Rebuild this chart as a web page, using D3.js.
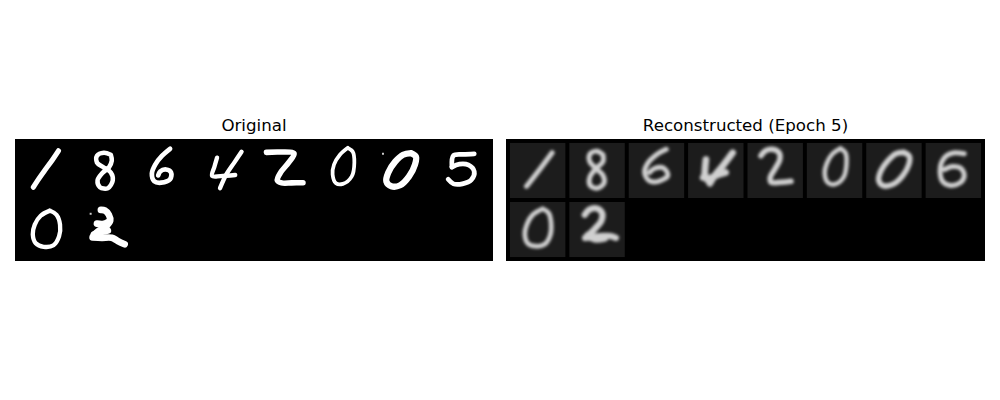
<html>
  <head>
    <script src="https://d3js.org/d3.v7.min.js"></script>
    <style>
      body { margin: 0; background: #fff; }
    </style>
  </head>
  <body>
    <svg id="fig" width="1000" height="400"></svg>
    <script>
      // digit labels, 8 per row like torchvision make_grid
      const labels = [1, 8, 6, 4, 2, 0, 0, 5, 0, 2];
      const titles = ["Original", "Reconstructed (Epoch 5)"];

      // pen strokes per digit, in 28x28 image pixels
      const origStrokes = [
        [[[20, 4], [17, 8.5], [13, 14], [9.5, 19], [7.3, 22.5]]],
        [[[16.5, 6], [13, 5], [9.5, 6.5], [9.5, 10], [13, 12.5], [16.5, 15], [17.5, 19], [15, 23], [11, 22.5], [9.8, 19], [12, 15.5], [15.5, 12.5], [17, 9], [16.5, 6]]],
        [[[16.5, 3], [12.5, 6.5], [9, 11], [7.3, 15.5], [8.5, 19.5], [12, 20.2], [16.5, 18.5], [17, 15], [14.5, 13.5], [11.5, 14.5], [10.5, 16.5]]],
        [[[10.3, 7.5], [9, 12], [7.8, 16.8], [12, 16.9], [19.5, 16.3]], [[22.7, 4.5], [19, 10], [15, 16], [11.8, 23]]],
        [[[5.3, 4.8], [12, 4.6], [19.3, 5.4], [16.5, 10], [12.5, 15], [10.8, 19], [13, 20.3], [18, 20.3], [23.8, 20.2]]],
        [[[16.5, 2.5], [12.5, 6], [9.5, 11], [8.8, 16], [10.5, 20.5], [14, 20.8], [18.5, 17], [19.8, 10], [19, 4.5], [16.5, 2.5]]],
        [[[18.5, 5.2], [21, 7], [20.5, 11], [17.5, 17], [13, 21.5], [8.5, 22], [6, 19.5], [7, 15], [10.5, 9.5], [14.5, 6], [18.5, 5.2]]],
        [[[20.5, 5.5], [15, 5.8], [10, 6.4], [9.2, 12.3]], [[9.2, 12.3], [13, 10.8], [17.5, 11.2], [20.5, 14.5], [19, 18.8], [14.5, 20.8], [10, 20.8], [7.3, 18.5]]],
        [[[15.7, 4.4], [11, 7], [8, 11.5], [7, 16.5], [8.5, 21], [12.5, 22.8], [17.5, 22], [20.3, 17.5], [20.8, 11.5], [19, 6.5], [15.7, 4.4]]],
        [[[11.5, 4], [13.5, 4.3], [15.5, 6.5], [16.2, 9.5], [14, 12.5], [10, 15], [8, 16.8]], [[7.3, 18], [12, 18.2], [17, 18.2], [20, 19.8], [23.5, 21.5]], [[9.5, 11], [12.5, 11.2], [15.5, 10]], [[8, 16.5], [11, 15.5], [15, 14.5]]]
      ];
      // stray single-pixel specks: [digit index, x, y]
      const origSpecks = [[6, 4.3, 5.5], [9, 6.3, 6]];

      const reconStrokes = [
        [[[21.3, 5], [15, 13.5], [8.4, 22]]],
        [[[17, 6], [14, 4.2], [10.5, 5.5], [10.3, 9.5], [13.5, 13], [17, 16.5], [17.5, 20.5], [14, 23], [10.5, 21.5], [10.3, 17.5], [13.5, 13], [17, 9.5], [17, 6]]],
        [[[19, 3.2], [14, 6], [9.5, 10.5], [8, 15], [10.5, 19.3], [15, 19.5], [19.8, 16.5], [17.5, 12.7], [13, 13], [10.5, 15]]],
        [[[9, 8.5], [8.6, 12.5], [8.4, 16]], [[7.6, 17.5], [11, 17.8], [15, 16.2], [19, 15]], [[22.5, 5], [18, 11], [13.5, 16.5], [11, 20.5]], [[8.5, 16.5], [10, 19], [12, 18]]],
        [[[6.8, 6.5], [9, 4], [12.5, 3.2], [16, 5], [16.3, 8.5], [14, 13], [11.5, 17.5], [12, 20], [17, 20], [22, 19.5]]],
        [[[17, 2.8], [13, 5.5], [10, 10.5], [9, 15.5], [10.5, 20], [14, 21], [18.5, 17.5], [20, 11], [19.5, 5], [17, 2.8]]],
        [[[19, 4.8], [21.8, 6.8], [21.5, 11], [18.5, 16.5], [13.5, 21], [8.5, 21.7], [6.3, 19], [7.5, 14], [11, 9], [15, 5.5], [19, 4.8]]],
        [[[19.5, 5.5], [14.5, 5], [10.5, 6.5], [8, 10], [7.3, 14.5], [8.5, 19.5], [12, 21.5], [17, 20.5], [19.5, 17], [18, 13], [13.5, 12], [9.5, 13.5]]],
        [[[16.5, 3.5], [11.5, 6.5], [8.5, 11.5], [7.5, 16.5], [9, 21], [13, 22.5], [17.5, 21.5], [20.3, 17], [20.8, 11], [19.5, 5.5], [16.5, 3.5]]],
        [[[7.8, 6.5], [10, 4], [13.5, 3.2], [16.5, 5.5], [16.2, 9.5], [13, 13.5], [10, 16.5]], [[8, 18.3], [12, 17.8], [17, 17.3], [21, 17.3], [23.5, 18.2]], [[9, 17], [13, 19], [18, 18.5]]]
      ];
      // pen widths in image pixels
      const origPen = [2.6, 2.3, 2.4, 2.2, 2.8, 1.9, 3.2, 2.4, 2.2, 3.4];
      const reconPen = [2.6, 2.5, 2.5, 3.4, 2.8, 2.3, 2.8, 2.5, 2.4, 3.2];

      const svg = d3.select("#fig");
      const defs = svg.append("defs");

      defs.append("filter")
        .attr("id", "soft")
        .attr("x", "-20%").attr("y", "-20%")
        .attr("width", "140%").attr("height", "140%")
        .append("feGaussianBlur")
        .attr("stdDeviation", 0.7);

      defs.append("filter")
        .attr("id", "blurry")
        .attr("x", "-50%").attr("y", "-50%")
        .attr("width", "200%").attr("height", "200%")
        .append("feGaussianBlur")
        .attr("stdDeviation", 1.7);

      const nCols = 8, cell = 28, pad = 2;
      const gridW = nCols * cell + (nCols + 1) * pad;
      const nRows = Math.ceil(labels.length / nCols);
      const gridH = nRows * cell + (nRows + 1) * pad;

      const panels = [
        { title: titles[0], x0: 15, x1: 493, strokes: origStrokes, pen: origPen, specks: origSpecks, recon: false },
        { title: titles[1], x0: 506, x1: 985, strokes: reconStrokes, pen: reconPen, specks: [], recon: true }
      ];

      panels.forEach(function (p) {
        const x = d3.scaleLinear().domain([0, gridW]).range([p.x0, p.x1]);
        const y = d3.scaleLinear().domain([0, gridH]).range([139, 261]);
        const k = x(1) - x(0);
        const g = svg.append("g");
        const cellX = (i) => pad + (i % nCols) * (cell + pad);
        const cellY = (i) => pad + Math.floor(i / nCols) * (cell + pad);

        g.append("rect")
          .attr("x", x(0)).attr("y", y(0))
          .attr("width", x(gridW) - x(0))
          .attr("height", y(gridH) - y(0))
          .attr("fill", "#000");

        g.append("text")
          .attr("x", (p.x0 + p.x1) / 2)
          .attr("y", 130.5)
          .attr("text-anchor", "middle")
          .style("font-family", "DejaVu Sans")
          .style("font-size", "16.67px")
          .text(p.title);

        labels.forEach(function (lab, i) {
          const cx = cellX(i);
          const cy = cellY(i);
          const cg = g.append("g").attr("class", "digit").attr("data-label", lab);

          if (p.recon) {
            cg.append("rect")
              .attr("x", x(cx)).attr("y", y(cy))
              .attr("width", x(cx + cell) - x(cx))
              .attr("height", y(cy + cell) - y(cy))
              .attr("fill", "#1c1c1c");
          }

          const line = d3.line()
            .x((d) => x(cx + d[0]))
            .y((d) => y(cy + d[1]))
            .curve(d3.curveCatmullRom.alpha(0.5));

          cg.append("g")
            .attr("filter", p.recon ? "url(#blurry)" : "url(#soft)")
            .selectAll("path")
            .data(p.strokes[i])
            .join("path")
            .attr("d", line)
            .attr("fill", "none")
            .attr("stroke", p.recon ? "#d0d0d0" : "#fff")
            .attr("stroke-width", p.pen[i] * k)
            .attr("stroke-linecap", "round")
            .attr("stroke-linejoin", "round");
        });

        g.selectAll("rect.speck")
          .data(p.specks)
          .join("rect")
          .attr("class", "speck")
          .attr("x", (d) => x(cellX(d[0]) + d[1] - 0.5))
          .attr("y", (d) => y(cellY(d[0]) + d[2] - 0.5))
          .attr("width", k)
          .attr("height", k)
          .attr("fill", "#ccc");
      });
    </script>
  </body>
</html>
